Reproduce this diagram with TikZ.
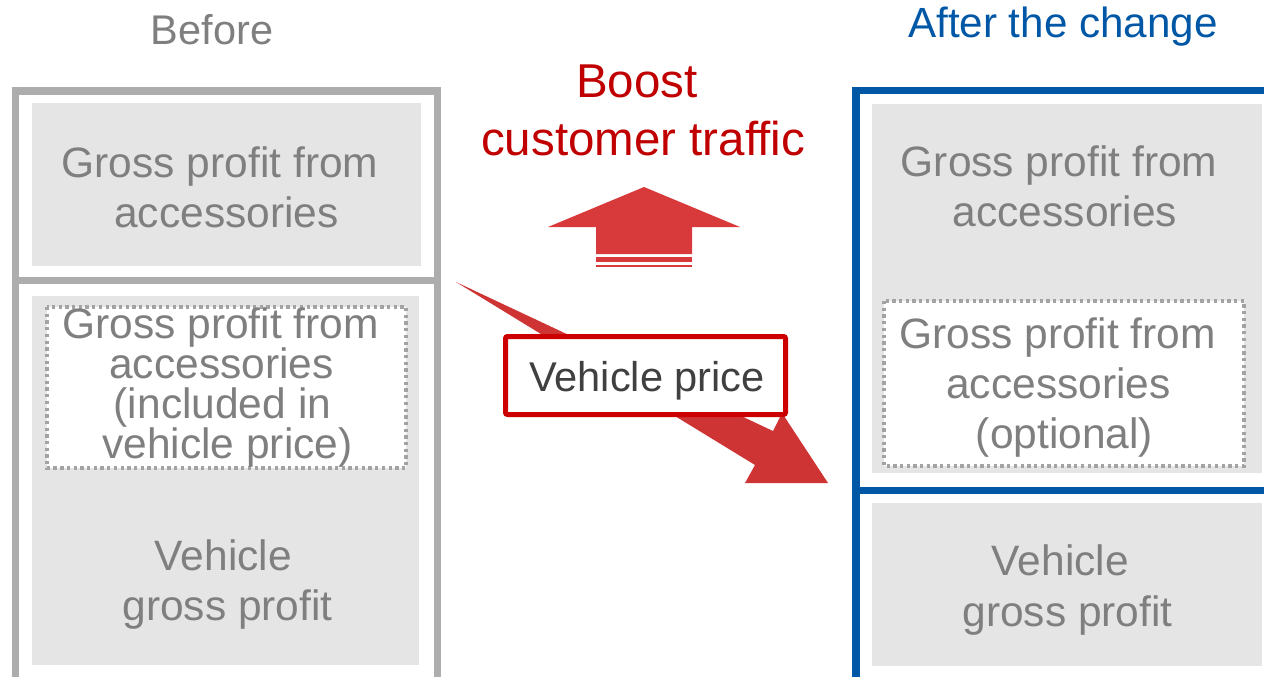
\documentclass[tikz,border=0pt]{standalone}
\usepackage{fontspec}
\setmainfont{Liberation Sans}
\definecolor{txtgray}{HTML}{7F7F7F}
\definecolor{framegray}{HTML}{ADADAD}
\definecolor{boxgray}{HTML}{E5E5E5}
\definecolor{dotgray}{HTML}{A3A3A3}
\definecolor{frameblue}{HTML}{0057A6}
\definecolor{darkred}{HTML}{C00000}
\definecolor{arrowred}{HTML}{D8393B}
\definecolor{diagred}{HTML}{CF3434}
\definecolor{pricered}{HTML}{CC0000}
\definecolor{pricetext}{HTML}{404040}
\tikzset{
  line/.style={inner sep=0pt, anchor=base, font=\fontsize{42.5}{50}\selectfont},
  gtxt/.style={line, text=txtgray},
  headtxt/.style={inner sep=0pt, anchor=base, font=\fontsize{41.5}{50}\selectfont},
  redtxt/.style={inner sep=0pt, anchor=base, text=darkred, font=\fontsize{47.5}{57}\selectfont},
  panel/.style={fill=boxgray, draw=none},
  dottedbox/.style={fill=white, draw=dotgray, line width=3.3pt, dash pattern=on 3.3pt off 3.4pt},
  grayframe/.style={draw=framegray, line width=7pt},
  blueframe/.style={draw=frameblue, line width=7.5pt},
}
\begin{document}
\begin{tikzpicture}[x=1pt,y=-1pt]
\useasboundingbox (0,0) rectangle (1264,677);
\clip (0,0) rectangle (1264,677);

% ---------- headings ----------
\node[headtxt, text=txtgray] (before) at (212,45) {Before};
\node[headtxt, text=frameblue, font=\fontsize{42.2}{50}\selectfont] (after) at (1063,38) {After the change};

% ---------- left column: before ----------
\fill[panel] (32,103) rectangle (421,266);
\fill[panel] (32,296) rectangle (419,665);
\draw[grayframe] (15.5,91) rectangle (437,680);
\draw[grayframe, line cap=round] (19,280) -- (433,280);
\draw[dottedbox] (47,307) rectangle (406,468);

\node[gtxt] (la1) at (220,177) {Gross profit from};
\node[gtxt] (la2) at (226.5,227) {accessories};

\node[gtxt] (lb1) at (220.5,338) {Gross profit from};
\node[gtxt] (lb2) at (221.5,378) {accessories};
\node[gtxt] (lb3) at (222.5,418) {(included in};
\node[gtxt] (lb4) at (227.5,458) {vehicle price)};

\node[gtxt] (lc1) at (223.5,570) {Vehicle};
\node[gtxt] (lc2) at (227.5,620) {gross profit};

% ---------- right column: after ----------
\fill[panel] (872,104) rectangle (1262,473);
\fill[panel] (872,503) rectangle (1262,666);
\draw[blueframe] (856,90.5) rectangle (1275,681);
\draw[blueframe] (859,490.5) -- (1275,490.5);
\draw[dottedbox] (884,301) rectangle (1244,466);

\node[gtxt] (ra1) at (1059,176) {Gross profit from};
\node[gtxt] (ra2) at (1065,226) {accessories};

\node[gtxt] (rb1) at (1057.5,348) {Gross profit from};
\node[gtxt] (rb2) at (1058.5,398) {accessories};
\node[gtxt] (rb3) at (1064.5,448) {(optional)};

\node[gtxt] (rc1) at (1060.5,575) {Vehicle};
\node[gtxt] (rc2) at (1067.5,626) {gross profit};

% ---------- middle: traffic arrow ----------
\node[redtxt] (boost1) at (637,97) {Boost};
\node[redtxt] (boost2) at (643,155) {customer traffic};

\fill[arrowred] (548,227) -- (644,187) -- (740,227) -- (692,227)
  -- (692,254) -- (596,254) -- (596,227) -- cycle;
\fill[arrowred] (596,257) rectangle (692,262);
\fill[arrowred] (596,265) rectangle (692,267);

% ---------- middle: price arrow ----------
\coordinate (tail) at (456,282);
\coordinate (shaftU) at (773,431);
\coordinate (headU) at (782,413);
\coordinate (tip) at (828,483);
\coordinate (headL) at (745,483);
\coordinate (shaftL) at (755,465);
\fill[diagred] (tail) -- (shaftU) -- (headU) -- (tip) -- (headL) -- (shaftL) -- cycle;

\draw[pricered, fill=white, line width=5pt, rounded corners=2pt]
  (505.5,336.5) rectangle (785.5,414.5);
\node[headtxt, text=pricetext, font=\fontsize{41.6}{50}\selectfont] (price) at (647,391) {Vehicle price};
\end{tikzpicture}
\end{document}
